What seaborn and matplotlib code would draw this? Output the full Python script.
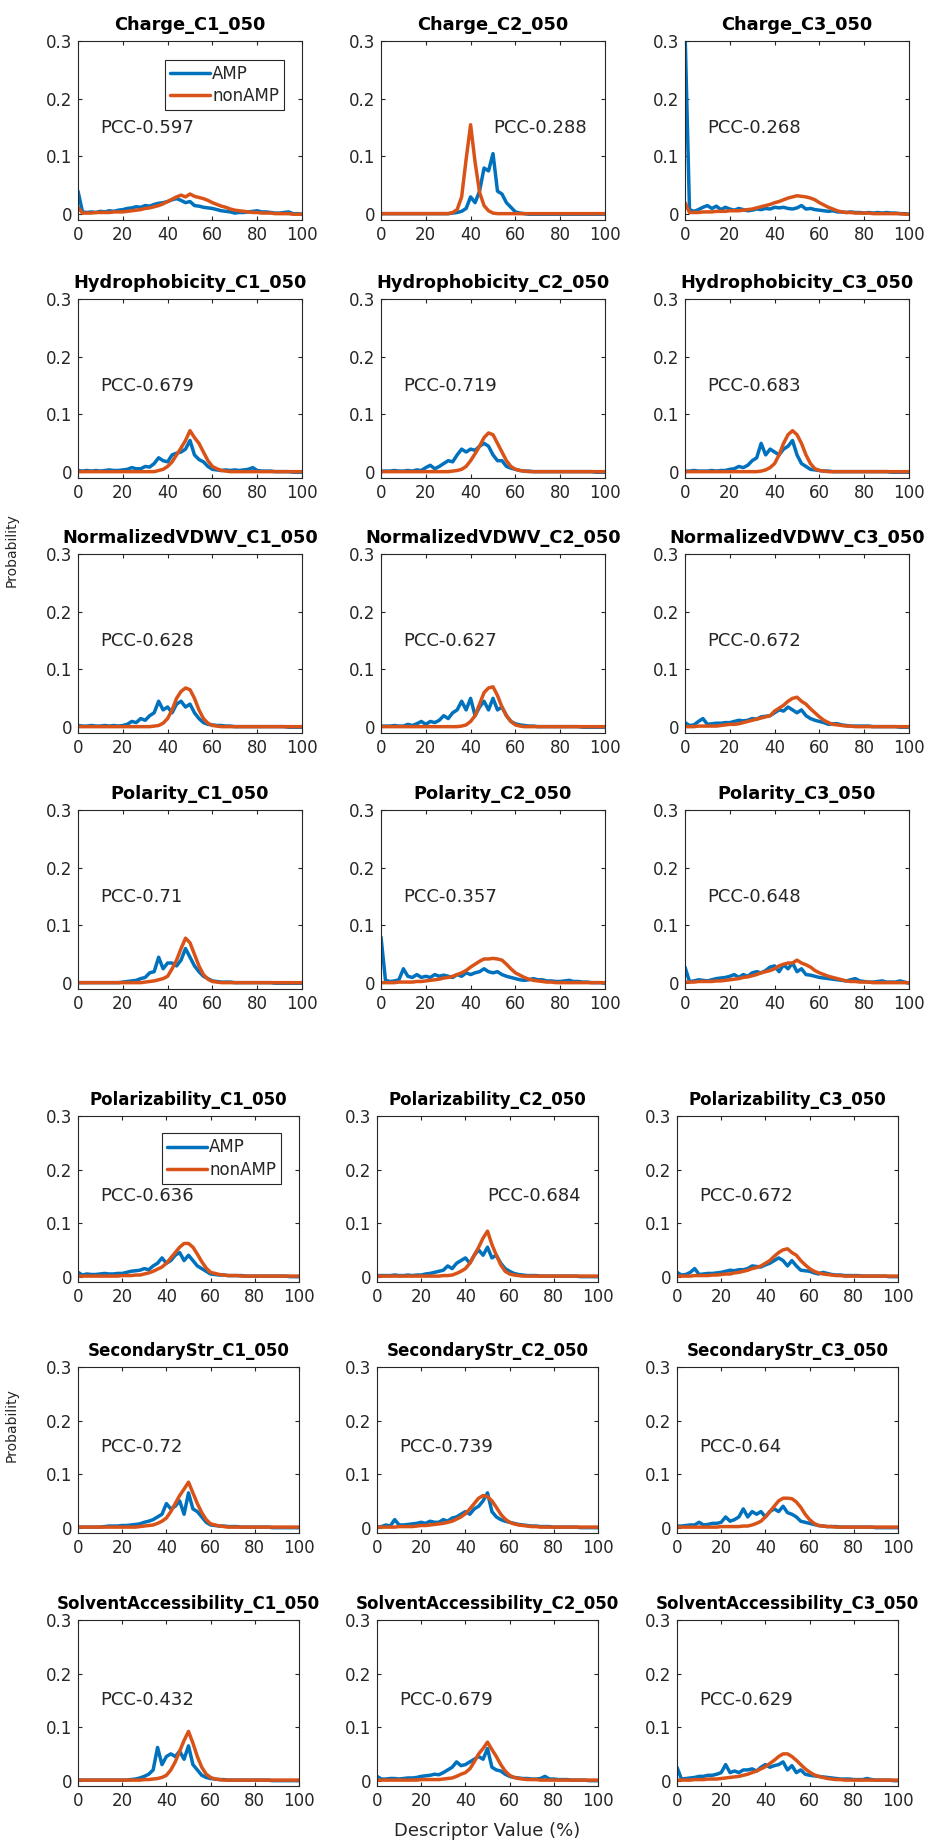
import numpy as np
import pandas as pd
import matplotlib.pyplot as plt
import seaborn as sns

# descriptor value grid (%) and probabilities in units of 1/1000
step = 2

charge_c1_amp = [40, 4, 3, 4, 3, 5, 4, 6, 5, 7, 8, 10, 11, 13, 12, 15, 14, 17, 19, 20,
                 22, 25, 27, 24, 20, 22, 15, 14, 12, 11, 10, 8, 6, 5, 4, 2, 3, 3, 4, 5,
                 6, 4, 4, 3, 2, 2, 3, 4, 1, 1, 0]
charge_c1_non = [12, 2, 2, 2, 3, 3, 3, 3, 4, 4, 4, 5, 6, 7, 8, 10, 11, 13, 15, 18,
                 22, 26, 30, 33, 30, 35, 31, 29, 27, 24, 20, 17, 14, 12, 9, 7, 6, 5, 4, 3,
                 3, 2, 2, 2, 1, 1, 1, 1, 0, 0, 0]
charge_c2_amp = [1, 1, 1, 1, 1, 1, 1, 1, 1, 1, 1, 1, 1, 1, 1, 1, 2, 3, 5, 10,
                 30, 20, 40, 80, 75, 105, 40, 35, 20, 12, 4, 2, 1, 0, 0, 0, 0, 0, 0, 0,
                 0, 0, 0, 0, 0, 0, 0, 0, 0, 0, 0]
charge_c2_non = [1, 1, 1, 1, 1, 1, 1, 1, 1, 1, 1, 1, 1, 1, 1, 1, 3, 8, 30, 95,
                 155, 90, 38, 15, 6, 2, 1, 1, 1, 1, 1, 1, 1, 1, 1, 1, 1, 1, 1, 1,
                 1, 1, 1, 1, 1, 1, 1, 1, 1, 1, 1]
charge_c3_amp = [320, 8, 5, 8, 12, 15, 10, 14, 8, 12, 9, 7, 10, 8, 6, 7, 9, 8, 10, 9,
                 12, 11, 12, 10, 9, 11, 15, 9, 10, 8, 7, 6, 5, 6, 4, 4, 3, 4, 3, 3,
                 2, 3, 2, 3, 2, 3, 2, 2, 1, 1, 0]
charge_c3_non = [20, 3, 3, 3, 4, 4, 4, 5, 5, 5, 6, 6, 6, 7, 8, 9, 11, 13, 15, 17,
                 20, 22, 25, 28, 30, 32, 31, 30, 28, 25, 20, 16, 12, 9, 6, 4, 3, 3, 2, 2,
                 2, 2, 1, 1, 1, 1, 1, 1, 1, 0, 0]

hydro_c1_amp = [3, 2, 3, 2, 3, 2, 3, 4, 3, 3, 4, 5, 8, 6, 6, 10, 9, 15, 25, 20,
                18, 30, 33, 35, 40, 55, 30, 22, 18, 10, 5, 4, 3, 4, 3, 4, 3, 4, 5, 8,
                3, 2, 2, 2, 1, 1, 1, 1, 0, 0, 0]
hydro_c1_non = [1, 1, 1, 1, 1, 1, 1, 1, 1, 1, 1, 1, 1, 1, 1, 1, 1, 1, 3, 5,
                10, 18, 30, 42, 55, 72, 60, 50, 35, 20, 10, 6, 3, 2, 1, 1, 1, 1, 1, 1,
                1, 1, 1, 1, 1, 1, 1, 1, 1, 1, 1]
hydro_c2_amp = [2, 2, 2, 3, 2, 2, 3, 2, 4, 3, 8, 12, 6, 10, 15, 20, 18, 30, 40, 35,
                40, 38, 45, 50, 45, 30, 20, 20, 10, 7, 5, 3, 2, 2, 1, 1, 1, 1, 1, 1,
                1, 1, 1, 1, 1, 1, 1, 1, 0, 0, 0]
hydro_c2_non = [1, 1, 1, 1, 1, 1, 1, 1, 1, 1, 1, 1, 1, 1, 1, 1, 2, 3, 5, 10,
                20, 32, 45, 60, 68, 65, 50, 35, 20, 10, 5, 3, 2, 1, 1, 1, 1, 1, 1, 1,
                1, 1, 1, 1, 1, 1, 1, 1, 1, 1, 1]
hydro_c3_amp = [2, 2, 3, 2, 2, 2, 3, 2, 3, 3, 5, 6, 10, 8, 12, 20, 25, 50, 30, 40,
                35, 30, 40, 45, 55, 30, 15, 10, 5, 4, 3, 2, 2, 1, 1, 1, 1, 1, 1, 1,
                1, 1, 1, 1, 1, 1, 0, 0, 0, 0, 0]
hydro_c3_non = [1, 1, 1, 1, 1, 1, 1, 1, 1, 1, 1, 1, 1, 1, 1, 1, 1, 2, 4, 8,
                15, 30, 50, 65, 72, 65, 50, 30, 15, 6, 3, 2, 1, 1, 1, 1, 1, 1, 1, 1,
                1, 1, 1, 1, 1, 1, 1, 1, 1, 1, 1]

vdwv_c1_amp = [3, 2, 2, 3, 2, 2, 3, 2, 3, 2, 3, 5, 10, 8, 15, 12, 20, 25, 45, 30,
               35, 25, 40, 45, 35, 40, 25, 15, 8, 5, 4, 3, 3, 2, 2, 1, 1, 1, 1, 1,
               1, 1, 1, 1, 1, 1, 1, 0, 0, 0, 0]
vdwv_c1_non = [1, 1, 1, 1, 1, 1, 1, 1, 1, 1, 1, 1, 1, 1, 1, 1, 1, 2, 3, 7,
               15, 30, 50, 62, 68, 65, 50, 30, 15, 7, 3, 2, 1, 1, 1, 1, 1, 1, 1, 1,
               1, 1, 1, 1, 1, 1, 1, 1, 1, 1, 1]
vdwv_c2_amp = [2, 2, 2, 3, 2, 2, 5, 3, 6, 10, 5, 10, 8, 12, 20, 15, 25, 30, 45, 30,
               50, 20, 35, 45, 30, 50, 30, 35, 20, 10, 6, 4, 3, 2, 2, 1, 1, 1, 1, 1,
               1, 1, 1, 1, 1, 0, 0, 0, 0, 0, 0]
vdwv_c2_non = [1, 1, 1, 1, 1, 1, 1, 1, 1, 1, 1, 1, 1, 1, 1, 1, 1, 1, 2, 4,
               10, 20, 40, 60, 68, 70, 55, 35, 20, 10, 4, 2, 1, 1, 1, 1, 1, 1, 1, 1,
               1, 1, 1, 1, 1, 1, 1, 1, 1, 1, 1]
vdwv_c3_amp = [8, 3, 4, 10, 15, 5, 6, 7, 7, 8, 8, 10, 12, 11, 12, 15, 14, 18, 19, 20,
               25, 30, 28, 35, 30, 25, 30, 20, 15, 12, 10, 8, 5, 6, 6, 4, 3, 2, 2, 2,
               2, 2, 1, 1, 1, 1, 1, 1, 0, 0, 0]
vdwv_c3_non = [1, 1, 1, 2, 2, 2, 2, 2, 3, 4, 5, 5, 6, 8, 10, 12, 14, 16, 18, 20,
               28, 33, 38, 45, 50, 52, 45, 40, 32, 25, 18, 12, 8, 5, 4, 3, 2, 2, 1, 1,
               1, 1, 1, 1, 1, 1, 1, 1, 1, 1, 1]

polar_c1_amp = [1, 1, 1, 1, 1, 1, 1, 1, 1, 1, 2, 3, 4, 5, 8, 10, 18, 20, 45, 25,
                35, 35, 30, 40, 60, 45, 30, 20, 12, 8, 4, 3, 2, 2, 2, 1, 1, 1, 1, 1,
                1, 1, 1, 1, 0, 0, 0, 0, 0, 0, 0]
polar_c1_non = [1, 1, 1, 1, 1, 1, 1, 1, 1, 1, 1, 1, 1, 1, 1, 2, 3, 4, 6, 8,
                12, 25, 40, 60, 78, 70, 50, 30, 15, 7, 3, 2, 1, 1, 1, 1, 1, 1, 1, 1,
                1, 1, 1, 1, 1, 1, 1, 1, 1, 1, 1]
polar_c2_amp = [80, 5, 3, 4, 6, 25, 12, 10, 15, 10, 12, 10, 15, 12, 14, 12, 10, 15, 12, 18,
                15, 18, 20, 25, 20, 18, 20, 15, 12, 10, 8, 6, 5, 6, 8, 6, 6, 4, 4, 3,
                3, 4, 5, 3, 3, 2, 2, 1, 1, 1, 0]
polar_c2_non = [1, 1, 1, 1, 2, 2, 2, 2, 3, 3, 4, 5, 6, 7, 9, 10, 12, 15, 18, 22,
                28, 33, 38, 42, 42, 43, 42, 40, 33, 25, 18, 14, 10, 7, 5, 4, 3, 2, 2, 1,
                1, 1, 1, 1, 1, 1, 1, 1, 1, 1, 1]
polar_c3_amp = [28, 3, 4, 6, 5, 4, 6, 8, 9, 10, 12, 15, 10, 15, 12, 18, 20, 18, 22, 28,
                30, 20, 32, 25, 35, 20, 25, 15, 14, 12, 10, 9, 8, 7, 6, 5, 4, 6, 8, 4,
                3, 2, 2, 3, 4, 2, 2, 2, 4, 2, 0]
polar_c3_non = [2, 2, 2, 3, 3, 3, 3, 4, 4, 5, 6, 7, 8, 10, 11, 13, 15, 18, 20, 22,
                25, 30, 33, 35, 35, 40, 35, 32, 28, 22, 18, 15, 12, 10, 8, 6, 4, 3, 3, 2,
                2, 2, 1, 1, 1, 1, 1, 1, 1, 1, 1]

polz_c1_amp = [8, 3, 5, 4, 4, 5, 6, 5, 5, 6, 6, 8, 10, 11, 12, 15, 13, 20, 25, 35,
               25, 30, 40, 45, 30, 40, 30, 20, 15, 10, 5, 4, 3, 3, 2, 2, 2, 2, 1, 1,
               1, 1, 1, 1, 1, 1, 1, 1, 0, 0, 0]
polz_c1_non = [1, 1, 1, 1, 1, 1, 1, 1, 1, 1, 2, 2, 2, 3, 3, 5, 7, 10, 14, 18,
               25, 35, 45, 55, 62, 62, 55, 42, 28, 16, 8, 6, 4, 3, 2, 2, 2, 1, 1, 1,
               1, 1, 1, 1, 1, 1, 1, 1, 1, 1, 1]
polz_c2_amp = [2, 2, 2, 2, 3, 2, 2, 3, 2, 3, 3, 5, 6, 8, 10, 12, 20, 15, 25, 30,
               35, 25, 40, 50, 40, 55, 35, 40, 25, 15, 10, 6, 4, 3, 2, 2, 2, 1, 1, 1,
               1, 1, 1, 1, 1, 1, 0, 0, 0, 0, 0]
polz_c2_non = [1, 1, 1, 1, 1, 1, 1, 1, 1, 1, 1, 1, 1, 1, 1, 2, 2, 3, 6, 10,
               15, 25, 40, 55, 72, 85, 60, 40, 22, 10, 5, 3, 2, 1, 1, 1, 1, 1, 1, 1,
               1, 1, 1, 1, 1, 1, 1, 1, 1, 1, 1]
polz_c3_amp = [8, 3, 4, 8, 15, 4, 5, 6, 6, 7, 8, 10, 12, 11, 13, 13, 15, 20, 19, 18,
               22, 25, 30, 35, 30, 20, 30, 20, 12, 11, 10, 7, 5, 8, 6, 4, 3, 3, 2, 2,
               2, 2, 1, 1, 1, 1, 1, 1, 0, 0, 0]
polz_c3_non = [1, 1, 1, 1, 2, 2, 2, 2, 3, 3, 4, 5, 5, 7, 8, 10, 12, 15, 17, 20,
               25, 30, 38, 45, 50, 52, 45, 40, 30, 22, 15, 10, 7, 5, 4, 3, 2, 2, 1, 1,
               1, 1, 1, 1, 1, 1, 1, 1, 1, 1, 1]

sec_c1_amp = [1, 1, 1, 1, 1, 1, 2, 3, 3, 3, 4, 4, 5, 6, 7, 10, 12, 15, 20, 25,
              45, 35, 40, 50, 25, 65, 35, 30, 20, 10, 5, 4, 3, 3, 2, 2, 2, 1, 1, 1,
              1, 1, 1, 1, 0, 0, 0, 0, 0, 0, 0]
sec_c1_non = [1, 1, 1, 1, 1, 1, 1, 1, 1, 1, 1, 1, 1, 1, 2, 3, 4, 5, 8, 12,
              18, 30, 45, 60, 72, 85, 65, 45, 28, 15, 7, 5, 3, 2, 1, 1, 1, 1, 1, 1,
              1, 1, 1, 1, 1, 1, 1, 1, 1, 1, 1]
sec_c2_amp = [1, 2, 5, 3, 15, 5, 5, 6, 7, 8, 10, 8, 12, 10, 10, 15, 12, 18, 20, 25,
              30, 25, 35, 40, 50, 65, 30, 20, 15, 12, 10, 8, 6, 5, 4, 3, 3, 2, 2, 2,
              1, 1, 1, 1, 1, 1, 0, 0, 0, 0, 0]
sec_c2_non = [1, 1, 1, 1, 1, 2, 2, 2, 2, 3, 4, 4, 5, 6, 7, 8, 10, 12, 16, 20,
              26, 35, 45, 55, 60, 58, 50, 38, 25, 16, 10, 7, 5, 4, 3, 2, 2, 1, 1, 1,
              1, 1, 1, 1, 1, 1, 1, 1, 1, 1, 1]
sec_c3_amp = [3, 3, 4, 5, 5, 10, 5, 6, 8, 8, 10, 20, 12, 15, 20, 35, 20, 30, 25, 30,
              20, 30, 35, 30, 40, 28, 25, 20, 12, 10, 8, 6, 4, 3, 2, 2, 2, 1, 1, 1,
              1, 1, 1, 1, 1, 0, 0, 0, 0, 0, 0]
sec_c3_non = [1, 1, 1, 1, 1, 1, 1, 1, 1, 1, 2, 2, 2, 2, 2, 3, 3, 5, 8, 12,
              20, 30, 40, 50, 55, 55, 54, 48, 38, 25, 15, 8, 4, 3, 2, 2, 1, 1, 1, 1,
              1, 1, 1, 1, 1, 1, 1, 1, 1, 1, 1]

solv_c1_amp = [1, 1, 1, 1, 1, 1, 1, 1, 1, 1, 1, 1, 2, 3, 5, 8, 12, 20, 62, 30,
               45, 50, 45, 55, 40, 65, 30, 20, 10, 6, 4, 3, 2, 2, 1, 1, 1, 1, 1, 1,
               1, 1, 1, 1, 0, 0, 0, 0, 0, 0, 0]
solv_c1_non = [1, 1, 1, 1, 1, 1, 1, 1, 1, 1, 1, 1, 1, 1, 1, 2, 2, 3, 4, 6,
               10, 20, 35, 55, 75, 92, 70, 45, 25, 12, 6, 3, 2, 1, 1, 1, 1, 1, 1, 1,
               1, 1, 1, 1, 1, 1, 1, 1, 1, 1, 1]
solv_c2_amp = [8, 3, 3, 4, 4, 3, 4, 5, 5, 6, 8, 9, 10, 12, 11, 15, 20, 25, 35, 28,
               30, 35, 40, 45, 40, 60, 25, 20, 18, 12, 8, 6, 5, 4, 4, 3, 3, 4, 8, 3,
               3, 2, 2, 2, 1, 1, 1, 1, 0, 0, 0]
solv_c2_non = [1, 1, 1, 1, 1, 1, 1, 1, 1, 1, 2, 2, 2, 2, 2, 3, 4, 5, 8, 12,
               15, 22, 35, 50, 60, 72, 58, 45, 30, 18, 10, 6, 4, 3, 2, 2, 2, 1, 1, 1,
               1, 1, 1, 1, 1, 1, 1, 1, 1, 1, 1]
solv_c3_amp = [25, 3, 4, 5, 6, 8, 8, 10, 10, 12, 15, 30, 15, 18, 15, 20, 20, 22, 18, 25,
               30, 25, 28, 30, 35, 20, 28, 15, 20, 12, 10, 9, 8, 7, 6, 5, 4, 3, 3, 3,
               2, 2, 2, 4, 2, 1, 1, 1, 1, 0, 0]
solv_c3_non = [1, 1, 1, 1, 2, 2, 2, 3, 3, 3, 4, 5, 6, 7, 8, 10, 12, 15, 18, 22,
               26, 32, 38, 45, 50, 50, 45, 38, 30, 22, 16, 11, 8, 6, 4, 3, 2, 2, 1, 1,
               1, 1, 1, 1, 1, 1, 1, 1, 1, 1, 1]

titles = [
    "Charge_C1_050", "Charge_C2_050", "Charge_C3_050",
    "Hydrophobicity_C1_050", "Hydrophobicity_C2_050", "Hydrophobicity_C3_050",
    "NormalizedVDWV_C1_050", "NormalizedVDWV_C2_050", "NormalizedVDWV_C3_050",
    "Polarity_C1_050", "Polarity_C2_050", "Polarity_C3_050",
    "Polarizability_C1_050", "Polarizability_C2_050", "Polarizability_C3_050",
    "SecondaryStr_C1_050", "SecondaryStr_C2_050", "SecondaryStr_C3_050",
    "SolventAccessibility_C1_050", "SolventAccessibility_C2_050", "SolventAccessibility_C3_050",
]
pcc = ["0.597", "0.288", "0.268", "0.679", "0.719", "0.683", "0.628", "0.627", "0.672",
       "0.71", "0.357", "0.648", "0.636", "0.684", "0.672", "0.72", "0.739", "0.64",
       "0.432", "0.679", "0.629"]
amp_series = [charge_c1_amp, charge_c2_amp, charge_c3_amp, hydro_c1_amp, hydro_c2_amp, hydro_c3_amp,
              vdwv_c1_amp, vdwv_c2_amp, vdwv_c3_amp, polar_c1_amp, polar_c2_amp, polar_c3_amp,
              polz_c1_amp, polz_c2_amp, polz_c3_amp, sec_c1_amp, sec_c2_amp, sec_c3_amp,
              solv_c1_amp, solv_c2_amp, solv_c3_amp]
non_series = [charge_c1_non, charge_c2_non, charge_c3_non, hydro_c1_non, hydro_c2_non, hydro_c3_non,
              vdwv_c1_non, vdwv_c2_non, vdwv_c3_non, polar_c1_non, polar_c2_non, polar_c3_non,
              polz_c1_non, polz_c2_non, polz_c3_non, sec_c1_non, sec_c2_non, sec_c3_non,
              solv_c1_non, solv_c2_non, solv_c3_non]

# ***************************************************

sns.set_style("ticks")
plt.rcParams['font.family'] = ['DejaVu Sans']
dark = '#262626'
c_amp, c_non = '#0072BD', '#D95319'
lw = 2.5

W, H = 934, 1843
fig = plt.figure(figsize=(W / 100, H / 100), dpi=100)

# pixel boxes (left, top, width, height) for the two stacked blocks
up_cols, up_rows, up_w, up_h = [78, 381, 685], [41, 299, 554, 810], 224, 179
lo_cols, lo_rows, lo_w, lo_h = [78, 377, 677], [1116, 1367, 1620], 221, 166

boxes = []
for t in up_rows:
    for l in up_cols:
        boxes.append((l, t, up_w, up_h, 12.8, 8))
for t in lo_rows:
    for l in lo_cols:
        boxes.append((l, t, lo_w, lo_h, 12, 8))

for i, (l, t, w, h, tsize, tpad) in enumerate(boxes):
    ax = fig.add_axes([l / W, 1 - (t + h) / H, w / W, h / H])
    a = np.array(amp_series[i]) / 1000
    n = np.array(non_series[i]) / 1000
    df = pd.DataFrame({'x': np.arange(len(a)) * step, 'AMP': a})
    dn = pd.DataFrame({'x': np.arange(len(n)) * step, 'nonAMP': n})
    sns.lineplot(data=df, x='x', y='AMP', ax=ax, color=c_amp, linewidth=lw, label='AMP')
    sns.lineplot(data=dn, x='x', y='nonAMP', ax=ax, color=c_non, linewidth=lw, label='nonAMP')
    ax.set_xlim(0, 100)
    ax.set_ylim(-0.01, 0.3)
    ax.set_xticks([0, 20, 40, 60, 80, 100])
    ax.set_yticks([0, 0.1, 0.2, 0.3])
    ax.set_yticklabels(['0', '0.1', '0.2', '0.3'])
    ax.set_xlabel('')
    ax.set_ylabel('')
    ax.tick_params(direction='in', top=True, right=True, length=3, width=0.8,
                   labelsize=12, colors=dark, pad=4)
    for s in ax.spines.values():
        s.set_color(dark)
        s.set_linewidth(0.8)
    ax.set_title(titles[i], fontsize=tsize, fontweight='bold', color='black', pad=tpad)
    px = 50 if titles[i] in ("Charge_C2_050", "Polarizability_C2_050") else 10
    ax.text(px, 0.15, 'PCC-' + pcc[i], fontsize=13, color=dark, va='center', ha='left')
    if i in (0, 12):
        leg = ax.legend(loc='upper right', bbox_to_anchor=(0.92, 0.895), fontsize=12,
                        handlelength=2.4, handletextpad=0.15, borderpad=0.3,
                        labelspacing=0.25, fancybox=False, framealpha=1, borderaxespad=0)
        leg.get_frame().set_edgecolor(dark)
        leg.get_frame().set_linewidth(0.8)
    else:
        ax.get_legend().remove()

fig.text(12 / W, 1 - 550 / H, 'Probability', rotation=90, fontsize=10, color=dark,
         ha='center', va='center')
fig.text(12 / W, 1 - 1425 / H, 'Probability', rotation=90, fontsize=10, color=dark,
         ha='center', va='center')
fig.text(487 / W, 1 - 1831 / H, 'Descriptor Value (%)', fontsize=13, color=dark,
         ha='center', va='center')

fig.savefig('out.png', dpi=100, facecolor='white')
